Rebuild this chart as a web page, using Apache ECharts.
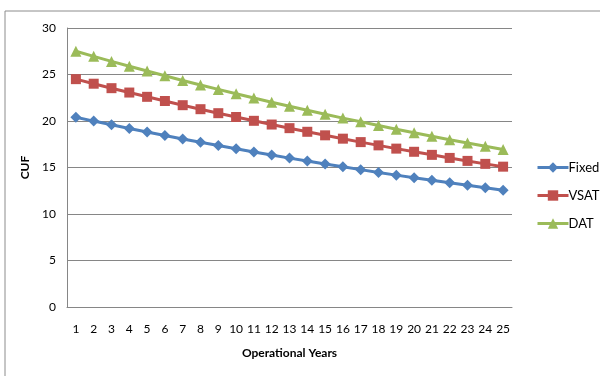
<!DOCTYPE html>
<html>
<head>
<meta charset="utf-8">
<script src="https://cdn.jsdelivr.net/npm/echarts@6/dist/echarts.min.js"></script>
<style>
  html, body { margin: 0; padding: 0; background: #fff; }
  #main-chart { width: 600px; height: 376px; }
</style>
</head>
<body>
<div id="main-chart"></div>
<script>
// years on the x axis
const years = ['1','2','3','4','5','6','7','8','9','10','11','12','13','14','15','16','17','18','19','20','21','22','23','24','25'];

// CUF values
const fixedCuf = [20.4, 19.99, 19.59, 19.2, 18.82, 18.44, 18.07, 17.71, 17.36, 17.01, 16.67, 16.34, 16.01, 15.69, 15.37, 15.07, 14.77, 14.47, 14.18, 13.9, 13.62, 13.35, 13.08, 12.82, 12.56];
const vsatCuf = [24.5, 24.01, 23.53, 23.06, 22.6, 22.15, 21.7, 21.27, 20.84, 20.43, 20.02, 19.62, 19.23, 18.84, 18.46, 18.1, 17.73, 17.38, 17.03, 16.69, 16.36, 16.03, 15.71, 15.39, 15.09];
const datCuf = [27.5, 26.95, 26.41, 25.88, 25.37, 24.86, 24.36, 23.87, 23.4, 22.93, 22.47, 22.02, 21.58, 21.15, 20.73, 20.31, 19.91, 19.51, 19.12, 18.73, 18.36, 17.99, 17.63, 17.28, 16.93];

const yTicks = [0, 5, 10, 15, 20, 25, 30];

const chartDom = document.getElementById('main-chart');
const myChart = echarts.init(chartDom);

const font = 'Lato, "Open Sans", sans-serif';

function lineSeries(name, data, color, symbol, size) {
    return {
        name: name,
        type: 'line',
        data: data,
        symbol: symbol,
        symbolSize: size,
        lineStyle: { color: color, width: 3 },
        itemStyle: { color: color },
        emphasis: { disabled: true },
        animation: false
    };
}

const option = {
    animation: false,
    graphic: [{
        type: 'rect',
        shape: { x: 5, y: 11, width: 600, height: 380 },
        style: { fill: 'none', stroke: '#8c8c8c', lineWidth: 1 },
        z: -1
    }],
    grid: { left: 67, right: 88, top: 28, bottom: 69, containLabel: false },
    legend: {
        orient: 'vertical',
        left: 531,
        top: 156,
        itemWidth: 31,
        itemHeight: 13,
        itemGap: 15,
        lineStyle: { width: 3 },
        textStyle: { fontFamily: font, fontSize: 13, color: '#000', padding: [0, 0, 0, -5] },
        data: ['Fixed', 'VSAT', 'DAT']
    },
    xAxis: {
        type: 'category',
        data: years,
        boundaryGap: true,
        name: 'Operational Years',
        nameLocation: 'middle',
        nameGap: 40,
        nameTextStyle: { fontFamily: font, fontSize: 12, fontWeight: 'bold', color: '#000' },
        axisLine: { lineStyle: { color: '#868686' } },
        axisTick: { show: false },
        axisLabel: { fontFamily: font, fontSize: 12, color: '#000', margin: 16, interval: 0 }
    },
    yAxis: {
        type: 'value',
        min: yTicks[0],
        max: yTicks[yTicks.length - 1],
        interval: 5,
        name: 'CUF',
        nameLocation: 'middle',
        nameGap: 33,
        nameTextStyle: { fontFamily: font, fontSize: 12, fontWeight: 'bold', color: '#000' },
        axisLine: { show: true, lineStyle: { color: '#868686' } },
        axisTick: { show: false },
        axisLabel: { fontFamily: font, fontSize: 12, color: '#000', margin: 11 },
        splitLine: { lineStyle: { color: '#868686', width: 1 } }
    },
    series: [
        lineSeries('Fixed', fixedCuf, '#4F81BD', 'diamond', 11),
        lineSeries('VSAT', vsatCuf, '#C0504D', 'rect', 10),
        lineSeries('DAT', datCuf, '#9BBB59', 'triangle', 11)
    ]
};

myChart.setOption(option);
</script>
</body>
</html>
